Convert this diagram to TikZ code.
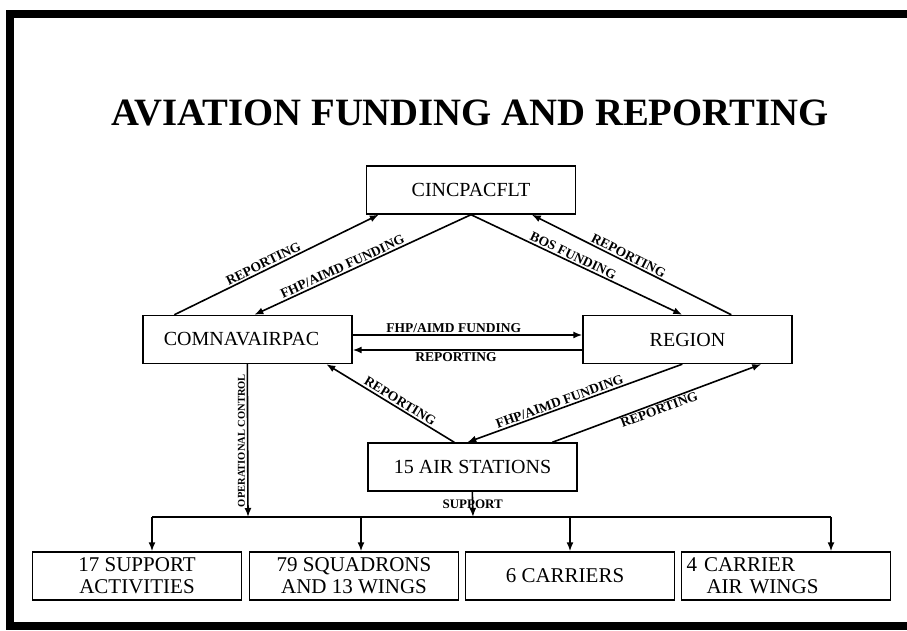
\documentclass[tikz,border=0pt]{standalone}
\usepackage{fontspec}
\setmainfont{Liberation Serif}
\usetikzlibrary{arrows.meta}

\begin{document}
\begin{tikzpicture}[x=1pt, y=1pt,
		box/.style={draw, line width=1.4pt, minimum width=209pt, minimum height=48pt, inner sep=0pt, font=\fontsize{20}{22}\selectfont},
		lowbox/.style={box, align=center, font=\fontsize{21}{22}\selectfont},
		flow/.style={line width=1.6pt, -{Latex[length=9pt, width=7pt]}},
		lbl/.style={sloped, inner sep=1.5pt, font=\bfseries\fontsize{13.5}{15}\selectfont}]
				\useasboundingbox (0,0) rectangle (907,631);
				\draw[line width=8pt] (907,617) -- (10,617) -- (10,5) -- (907,5);

				% Nodes
				\node[font=\bfseries\fontsize{38.7}{40}\selectfont] (title) at (470,518) {AVIATION FUNDING AND REPORTING};
				\node[box] (cinc) at (471,441) {CINCPACFLT};
				\node[box] (comnav) at (247.5,291.5) {COMNAVAIRPAC\hspace*{12pt}};
				\node[box] (region) at (687.5,291.5) {REGION};
				\node[box] (air) at (472.5,164) {15 AIR STATIONS};
				\node[lowbox] (sup) at (137,55) {17 SUPPORT\\ACTIVITIES};
				\node[lowbox] (sqd) at (354,55) {79 SQUADRONS\\AND 13 WINGS};
				\node[lowbox] (car) at (570,55) {6 CARRIERS\hspace*{10pt}};
				\node[lowbox, text width=199pt, align=left] (cvw) at (786,55) {4 CARRIER\\\hspace*{20pt}AIR WINGS};
				\coordinate (busl) at (152,114);
				\coordinate (opctl) at (248,114);
				\coordinate (d2) at (361,114);
				\coordinate (supp) at (473,114);
				\coordinate (d3) at (570,114);
				\coordinate (busr) at (831,114);

				% Edges
				\draw[flow] ([xshift=32pt]comnav.north west) -- node[lbl, above, pos=0.45] {REPORTING} ([xshift=13pt]cinc.south west);
				\draw[flow] (cinc.south) -- node[lbl, above, pos=0.58] {FHP/AIMD FUNDING} ([xshift=112pt]comnav.north west);
				\draw[flow] (cinc.south) -- node[lbl, above, pos=0.47] {BOS FUNDING} ([xshift=100pt]region.north west);
				\draw[flow] ([xshift=149pt]region.north west) -- node[lbl, above, pos=0.53] {REPORTING} ([xshift=166pt]cinc.south west);
				\draw[flow] ([yshift=4.5pt]comnav.east) -- node[lbl, above, pos=0.44] {FHP/AIMD FUNDING} ([yshift=4.5pt]region.west);
				\draw[flow] ([yshift=-10.5pt]region.west) -- node[lbl, below, pos=0.55] {REPORTING} ([yshift=-10.5pt]comnav.east);
				\draw[flow] ([xshift=87pt]air.north west) -- node[lbl, above, pos=0.45] {REPORTING} ([xshift=184pt]comnav.south west);
				\draw[flow] ([xshift=100pt]region.south west) -- node[lbl, above, pos=0.56] {FHP/AIMD FUNDING} ([xshift=100pt]air.north west);
				\draw[flow] ([xshift=185pt]air.north west) -- node[lbl, below, pos=0.5] {REPORTING} ([xshift=179pt]region.south west);
				\draw[flow] ([xshift=105pt]comnav.south west) -- node[rotate=90, anchor=south, inner sep=2pt, font=\bfseries\fontsize{10.5}{12}\selectfont] {OPERATIONAL CONTROL} (opctl);
				\draw[flow] ([xshift=105pt]air.south west) -- node[font=\bfseries\fontsize{13}{14}\selectfont] {SUPPORT} (supp);
				\draw[line width=1.6pt] (busl) -- (busr);
				\foreach \d/\b in {busl/sup, d2/sqd, d3/car, busr/cvw}
					\draw[flow] (\d) -- (\d |- \b.north);
			\end{tikzpicture}
\end{document}
